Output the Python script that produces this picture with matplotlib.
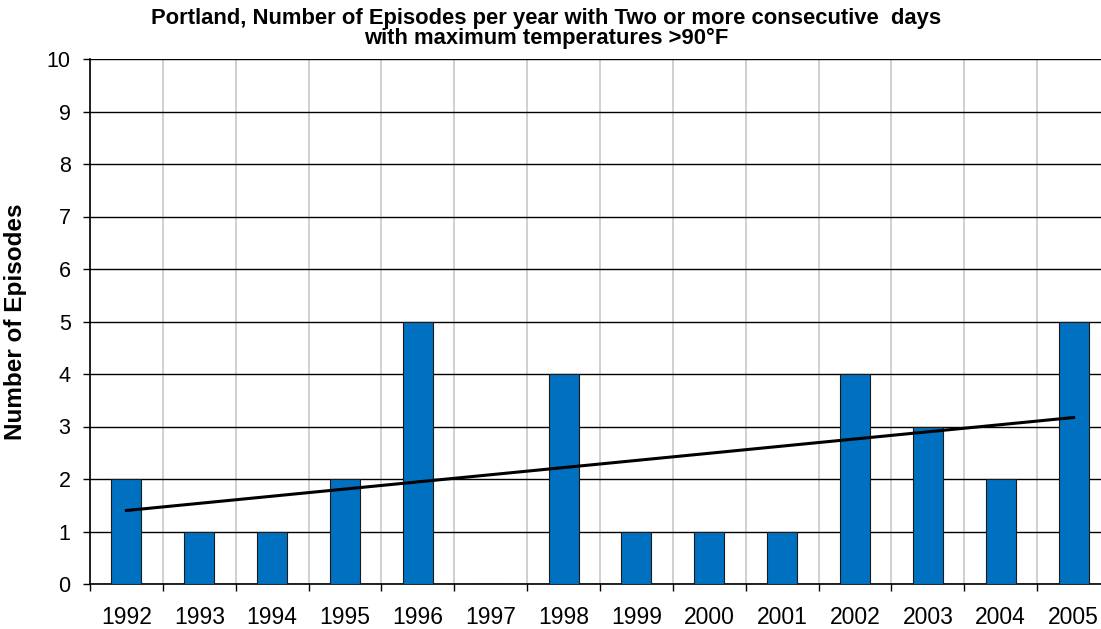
import numpy as np
import matplotlib
matplotlib.use("Agg")
import matplotlib.pyplot as plt

plt.rcParams['font.family'] = ['Liberation Sans', 'DejaVu Sans']

years = ["1992", "1993", "1994", "1995", "1996", "1997", "1998",
         "1999", "2000", "2001", "2002", "2003", "2004", "2005"]
episodes = [2, 1, 1, 2, 5, 0, 4, 1, 1, 1, 4, 3, 2, 5]

x = np.arange(len(years))
# linear trendline like the spreadsheet one
slope, icpt = np.polyfit(x, episodes, 1)
trend = slope * x + icpt

fig = plt.figure(figsize=(11.01, 6.29), dpi=100)
ax = fig.add_axes([90/1101, 45/629, 1020/1101, 525/629])

ax.bar(x, episodes, width=0.41, color="#0070C0", edgecolor="#1a1a1a", linewidth=0.8, zorder=3)
ax.plot([x[0], x[-1]], [trend[0], trend[-1]], color="black", linewidth=2.2, zorder=4)

ax.set_xlim(-0.5, len(years) - 0.5)
ax.set_ylim(0, 10)
ax.set_yticks(range(0, 11))
ax.set_xticks(x)
ax.set_xticklabels(years)
ax.set_xticks(np.arange(-0.5, len(years), 1), minor=True)

ax.grid(True, axis="y", color="black", linewidth=1, zorder=1)
ax.grid(True, axis="x", which="minor", color="#c8c8c8", linewidth=1.2, zorder=1)
ax.grid(False, axis="x", which="major")
ax.set_axisbelow(True)

ax.tick_params(axis="x", which="major", length=0, pad=16, labelsize=16.5)
ax.tick_params(axis="x", which="minor", length=5, width=1, direction="out")
ax.tick_params(axis="y", length=5, width=1, pad=9, labelsize=15.5)

for s in ["top", "right"]:
    ax.spines[s].set_visible(False)
ax.spines["left"].set_linewidth(1.2)
ax.spines["bottom"].set_linewidth(1.2)

ax.set_ylabel("Number of Episodes", fontsize=17.5, fontweight="bold", labelpad=14)

fig.text(0.496, 0.987, "Portland, Number of Episodes per year with Two or more consecutive  days\nwith maximum temperatures >90°F",
         ha="center", va="top", fontsize=15.8, fontweight="bold", linespacing=0.95)

fig.savefig("out.png", dpi=100)
